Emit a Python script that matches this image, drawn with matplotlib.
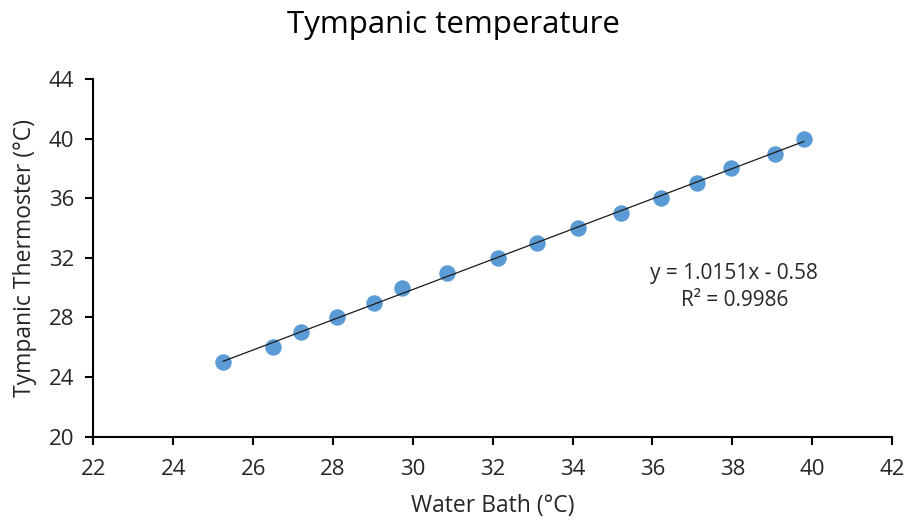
import matplotlib.pyplot as plt
import numpy as np

# data
water_bath = [25.25, 26.49, 27.19, 28.10, 29.03, 29.73, 30.86, 32.13, 33.12,
              34.13, 35.20, 36.22, 37.12, 37.97, 39.06, 39.79]
tympanic = [25, 26, 27, 28, 29, 30, 31, 32, 33, 34, 35, 36, 37, 38, 39, 40]
eq_text = "y = 1.0151x - 0.58\nR² = 0.9986"

plt.rcParams['font.family'] = ['Open Sans', 'DejaVu Sans']
txt_col = '#262626'

fig = plt.figure(figsize=(9.07, 5.22), dpi=100)
ax = fig.add_axes([0.103, 0.1634, 0.8805, 0.6853])

x = np.array(water_bath)
y = np.array(tympanic)
ax.scatter(x, y, s=140, color='#5B9BD5', zorder=3, linewidths=0)

# linear trend line
k, b = np.polyfit(x, y, 1)
xx = np.array([x.min(), x.max()])
ax.plot(xx, k * xx + b, color='#1a1a1a', lw=0.9, zorder=4)

ax.text(38.05, 30.05, eq_text, ha='center', va='center', fontsize=15,
        linespacing=1.4, color=txt_col)

ax.set_xlim(22, 42)
ax.set_ylim(20, 44)
ax.set_xticks(np.arange(22, 43, 2))
ax.set_yticks(np.arange(20, 45, 4))
ax.tick_params(direction='out', length=6, width=1.5, labelsize=16,
               color='black', labelcolor=txt_col, pad=8)
ax.tick_params(axis='x', pad=10)
for s in ['top', 'right']:
    ax.spines[s].set_visible(False)
for s in ['left', 'bottom']:
    ax.spines[s].set_linewidth(1.5)

fig.suptitle('Tympanic temperature', fontsize=22.5, x=0.5, y=0.952,
             va='center', color='black')
ax.set_xlabel('Water Bath (°C)', fontsize=16.5, labelpad=10, color=txt_col)
ax.set_ylabel('Tympanic Thermoster (°C)', fontsize=16.5, labelpad=8,
              color=txt_col)

fig.savefig('out.png', dpi=100)
